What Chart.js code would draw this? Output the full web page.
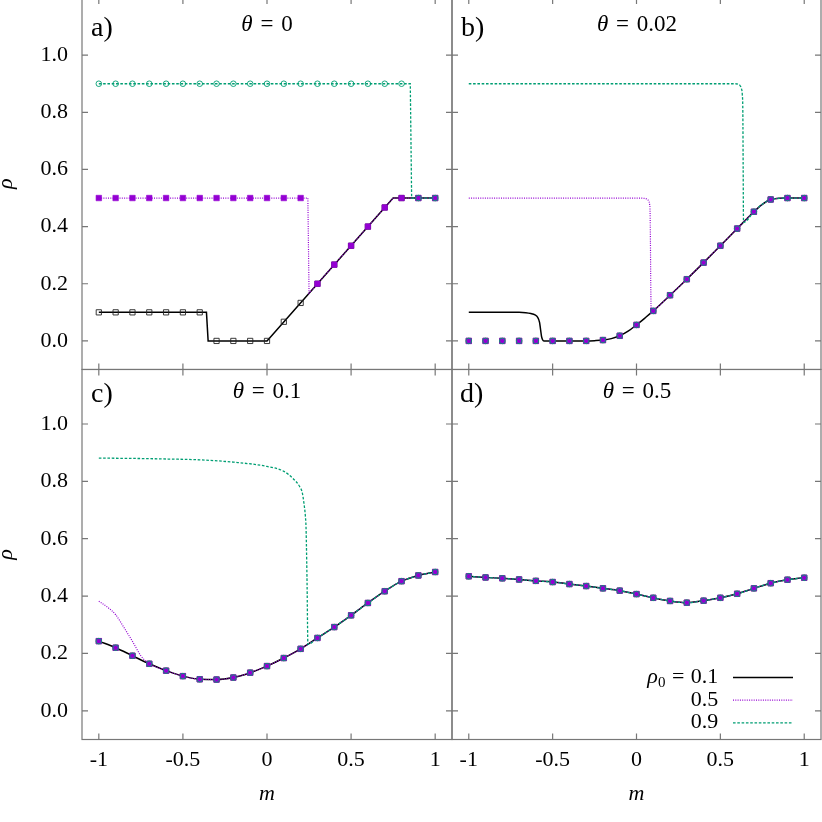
<!DOCTYPE html>
<html><head><meta charset="utf-8">
<script src="https://cdn.jsdelivr.net/npm/chart.js@4.4.1/dist/chart.umd.min.js"></script>
<style>
html,body{margin:0;padding:0;background:#fff;width:822px;height:822px;overflow:hidden;}
body{position:relative;font-family:'Liberation Serif','Times New Roman',serif;color:#000;}
.panel{position:absolute;}
.txt{position:absolute;white-space:nowrap;font-family:'Liberation Serif','Times New Roman',serif;color:#000;}
</style></head><body>
<div class="panel" style="left:0px;top:-4px;width:460px;height:374px"><canvas id="ca"></canvas></div>
<div class="panel" style="left:444px;top:-4px;width:378px;height:374px"><canvas id="cb"></canvas></div>
<div class="panel" style="left:0px;top:366px;width:460px;height:456px"><canvas id="cc"></canvas></div>
<div class="panel" style="left:444px;top:366px;width:378px;height:456px"><canvas id="cd"></canvas></div>
<script>
// ---------------- data ----------------
const xTicks = [-1, -0.5, 0, 0.5, 1];
const xTickLabels = ['-1', '-0.5', '0', '0.5', '1'];
const yTicks = [0, 0.2, 0.4, 0.6, 0.8, 1.0];
const yTickLabels = ['0.0', '0.2', '0.4', '0.6', '0.8', '1.0'];
const panelLetters = ['a)', 'b)', 'c)', 'd)'];
const thetaValues = ['0', '0.02', '0.1', '0.5'];
const legendLabels = ['0.1', '0.5', '0.9'];

// marker positions (m)
const markM = [-1,-0.9,-0.8,-0.7,-0.6,-0.5,-0.4,-0.3,-0.2,-0.1,0,0.1,0.2,0.3,0.4,0.5,0.6,0.7,0.8,0.9,1];

// panel a) theta = 0
const aMark01 = [0.1,0.1,0.1,0.1,0.1,0.1,0.1,0,0,0,0,0.067,0.133,0.2,0.267,0.333,0.4,0.467,0.5,0.5,0.5];
const aMark05 = [0.5,0.5,0.5,0.5,0.5,0.5,0.5,0.5,0.5,0.5,0.5,0.5,0.5,0.2,0.267,0.333,0.4,0.467,0.5,0.5,0.5];
const aMark09 = [0.9,0.9,0.9,0.9,0.9,0.9,0.9,0.9,0.9,0.9,0.9,0.9,0.9,0.9,0.9,0.9,0.9,0.9,0.9,0.5,0.5];
const aLine01M = [-1,-0.36,-0.35,0,0.75,1];
const aLine01  = [0.1,0.1,0,0,0.5,0.5];
const aLine05M = [-1,0.243,0.25,0.75,1];
const aLine05  = [0.5,0.5,0.167,0.5,0.5];
const aLine09M = [-1,0.852,0.86,1];
const aLine09  = [0.9,0.9,0.5,0.5];

// panel b) theta = 0.02
const bMark = [0,0,0,0,0,0,0,0,0.003,0.018,0.056,0.105,0.160,0.216,0.274,0.333,0.393,0.452,0.495,0.5,0.5];
const bLine01M = [-1,-0.7,-0.66,-0.63,-0.605,-0.59,-0.578,-0.572,-0.566,-0.56,-0.552,-0.3,-0.25,-0.2,-0.15,-0.1,-0.05,0,0.05,0.1,0.2,0.3,0.4,0.5,0.6,0.7,0.75,0.8,0.85,0.9,1];
const bLine01  = [0.1,0.1,0.099,0.096,0.091,0.083,0.065,0.04,0.015,0.004,0,0,0.001,0.003,0.008,0.018,0.034,0.056,0.08,0.105,0.160,0.216,0.274,0.333,0.393,0.452,0.478,0.495,0.499,0.5,0.5];
const bLine05M = [-1,0.02,0.045,0.062,0.072,0.078,0.081,0.083,0.085,0.088,0.1,0.2,0.3,0.4,0.5,0.6,0.7,0.75,0.8,0.85,0.9,1];
const bLine05  = [0.5,0.5,0.499,0.496,0.49,0.478,0.45,0.35,0.2,0.1,0.105,0.160,0.216,0.274,0.333,0.393,0.452,0.478,0.495,0.499,0.5,0.5];
const bLine09M = [-1,0.59,0.607,0.618,0.626,0.631,0.634,0.636,0.638,0.7,0.75,0.8,0.85,0.9,1];
const bLine09  = [0.9,0.9,0.898,0.893,0.882,0.86,0.8,0.6,0.415,0.452,0.478,0.495,0.499,0.5,0.5];

// panel c) theta = 0.1
const cMark = [0.243,0.220,0.192,0.164,0.140,0.121,0.110,0.109,0.116,0.133,0.156,0.184,0.216,0.254,0.292,0.333,0.376,0.417,0.452,0.472,0.484];
const cLine01M = [-1,-0.9,-0.8,-0.7,-0.6,-0.5,-0.4,-0.3,-0.2,-0.1,0,0.1,0.2,0.3,0.4,0.5,0.6,0.7,0.8,0.9,1];
const cLine01  = [0.243,0.220,0.192,0.164,0.140,0.121,0.110,0.109,0.116,0.133,0.156,0.184,0.216,0.254,0.292,0.333,0.376,0.417,0.452,0.472,0.484];
const cLine05M = [-1,-0.95,-0.9,-0.85,-0.8,-0.75,-0.72,-0.7,-0.6,-0.5,-0.4,-0.3,-0.2,-0.1,0,0.1,0.2,0.3,0.4,0.5,0.6,0.7,0.8,0.9,1];
const cLine05  = [0.382,0.362,0.335,0.29,0.242,0.192,0.172,0.164,0.140,0.121,0.110,0.109,0.116,0.133,0.156,0.184,0.216,0.254,0.292,0.333,0.376,0.417,0.452,0.472,0.484];
const cLine09M = [-1,-0.8,-0.6,-0.4,-0.2,0,0.1,0.156,0.196,0.21,0.22,0.228,0.232,0.236,0.239,0.241,0.243,0.3,0.4,0.5,0.6,0.7,0.8,0.9,1];
const cLine09  = [0.881,0.880,0.878,0.875,0.867,0.852,0.835,0.809,0.78,0.76,0.722,0.68,0.641,0.526,0.41,0.3,0.232,0.254,0.292,0.333,0.376,0.417,0.452,0.472,0.484];

// panel d) theta = 0.5
const dMark = [0.469,0.465,0.462,0.458,0.453,0.449,0.442,0.435,0.427,0.419,0.407,0.394,0.383,0.377,0.384,0.394,0.408,0.427,0.445,0.457,0.464];
const dLineM = [-1,-0.9,-0.8,-0.7,-0.6,-0.5,-0.4,-0.3,-0.2,-0.1,0,0.1,0.2,0.3,0.4,0.5,0.6,0.7,0.8,0.9,1];
const dLine  = [0.469,0.465,0.462,0.458,0.453,0.449,0.442,0.435,0.427,0.419,0.407,0.394,0.383,0.377,0.384,0.394,0.408,0.427,0.445,0.457,0.464];

// ---------------- styling / helpers ----------------
const FONT = "'Liberation Serif','Times New Roman',serif";
const STYLE = {
  r01: {c: '#000000', w: 1.5, d: []},
  r05: {c: '#9400d3', w: 1.2, d: [1, 1.3]},
  r09: {c: '#009e73', w: 1.3, d: [2.6, 1.7]}
};
function pts(xs, ys) { return xs.map((x, i) => ({x: x, y: ys[i]})); }
function lineDs(xs, ys, key, smooth) {
  const s = STYLE[key];
  const order = {r09: 3, r05: 4, r01: 5}[key];
  return {data: pts(xs, ys), showLine: true, borderColor: s.c, backgroundColor: s.c,
    borderWidth: s.w, borderDash: s.d, pointRadius: 0, pointHoverRadius: 0, order: order,
    cubicInterpolationMode: smooth ? 'monotone' : 'default', tension: 0, fill: false, key: key};
}
function markDs(xs, ys, key) {
  const base = {data: pts(xs, ys), showLine: false, pointHoverRadius: 0, key: 'm' + key};
  if (key === 'r01') return Object.assign(base, {order: 2, pointStyle: 'rect', pointRadius: 3.7,
    pointBorderColor: '#222', borderColor: '#222', pointBackgroundColor: 'rgba(0,0,0,0)', backgroundColor: 'rgba(0,0,0,0)', pointBorderWidth: 0.9});
  if (key === 'r05') return Object.assign(base, {order: 1, pointStyle: 'rect', pointRadius: 3.9,
    pointBorderColor: '#9400d3', borderColor: '#9400d3', pointBackgroundColor: '#9400d3', backgroundColor: '#9400d3', pointBorderWidth: 0.6});
  return Object.assign(base, {order: 0, pointStyle: 'circle', pointRadius: 2.8,
    pointBorderColor: '#009e73', borderColor: '#009e73', pointBackgroundColor: 'rgba(0,0,0,0)', backgroundColor: 'rgba(0,0,0,0)', pointBorderWidth: 0.9});
}

const framePlugin = {
  id: 'frame',
  afterDraw(chart) {
    const ctx = chart.ctx, a = chart.chartArea, x = chart.scales.x, y = chart.scales.y;
    ctx.save();
    ctx.strokeStyle = '#777777';
    ctx.lineWidth = 1.2;
    ctx.setLineDash([]);
    ctx.strokeRect(a.left, a.top, a.right - a.left, a.bottom - a.top);
    ctx.beginPath();
    x.ticks.forEach(t => {
      const p = x.getPixelForValue(t.value);
      ctx.moveTo(p, a.bottom); ctx.lineTo(p, a.bottom - 6);
      ctx.moveTo(p, a.top); ctx.lineTo(p, a.top + 6);
    });
    y.ticks.forEach(t => {
      const p = y.getPixelForValue(t.value);
      ctx.moveTo(a.left, p); ctx.lineTo(a.left + 6, p);
      ctx.moveTo(a.right, p); ctx.lineTo(a.right - 6, p);
    });
    ctx.stroke();
    ctx.restore();
  }
};

const legendPlugin = {
  id: 'legendSamples',
  afterDraw(chart) {
    const ctx = chart.ctx, a = chart.chartArea;
    ['r01', 'r05', 'r09'].forEach((k, i) => {
      const d = chart.data.datasets.find(ds => ds.key === k);
      const yy = a.top + 308 + i * 22.7;
      ctx.save();
      ctx.strokeStyle = d.borderColor;
      ctx.lineWidth = d.borderWidth;
      ctx.setLineDash(d.borderDash);
      ctx.beginPath();
      ctx.moveTo(a.left + 281, yy);
      ctx.lineTo(a.left + 341, yy);
      ctx.stroke();
      ctx.restore();
    });
  }
};

function noPad(s) { s.paddingTop = 0; s.paddingBottom = 0; s.paddingLeft = 0; s.paddingRight = 0; }

function makeChart(id, datasets, cfg) {
  const chart = new Chart(document.getElementById(id), {
    type: 'scatter',
    data: {datasets: datasets},
    options: {
      responsive: true, maintainAspectRatio: false, animation: false, devicePixelRatio: 1,
      events: [],
      layout: {autoPadding: false, padding: Object.assign({}, cfg.pad)},
      plugins: {legend: {display: false}, tooltip: {enabled: false}},
      scales: {
        x: {
          type: 'linear', position: 'bottom', min: -1.1, max: 1.1, bounds: 'data',
          afterBuildTicks: s => { s.ticks = xTicks.map(v => ({value: v})); },
          afterFit: s => { s.height = cfg.showX ? 70 : 0; noPad(s); },
          grid: {display: false, drawTicks: false}, border: {display: false},
          ticks: {display: cfg.showX, padding: 8, color: '#000', autoSkip: false, maxRotation: 0,
            font: {family: FONT, size: 22}, callback: (v, i) => xTickLabels[i]},
          title: {display: cfg.showX, text: 'm', color: '#000',
            font: {family: FONT, size: 22, style: 'italic'}, padding: {top: 0, bottom: 2}}
        },
        y: {
          type: 'linear', position: 'left', min: -0.1, max: cfg.ymax, bounds: 'data',
          afterBuildTicks: s => { s.ticks = yTicks.map(v => ({value: v})); },
          afterFit: s => { s.width = cfg.showY ? 82 : 0; noPad(s); },
          grid: {display: false, drawTicks: false}, border: {display: false},
          ticks: {display: cfg.showY, padding: 14, color: '#000', autoSkip: false,
            font: {family: FONT, size: 22}, callback: (v, i) => yTickLabels[i]},
          title: {display: cfg.showY, text: 'ρ', color: '#000',
            font: {family: FONT, size: 22, style: 'italic', lineHeight: 0.6}, padding: {top: 0, bottom: 0}}
        }
      }
    },
    plugins: [framePlugin].concat(cfg.extra || [])
  });
  // nudge layout padding so that the plot frame lands exactly where wanted
  const t = cfg.target;
  for (let k = 0; k < 3; k++) {
    const a = chart.chartArea;
    const p = chart.config.options.layout.padding;
    const dl = t.left - a.left, dr = a.right - t.right, dt = t.top - a.top, db = a.bottom - t.bottom;
    if (Math.abs(dl) + Math.abs(dr) + Math.abs(dt) + Math.abs(db) < 0.05) break;
    chart.config.options.layout.padding = {left: p.left + dl, right: p.right + dr, top: p.top + dt, bottom: p.bottom + db};
    chart.update('none');
  }
  return chart;
}

// panel a  (div at page 0,-4)
makeChart('ca', [
  markDs(markM, aMark09, 'r09'), markDs(markM, aMark05, 'r05'), markDs(markM, aMark01, 'r01'),
  lineDs(aLine09M, aLine09, 'r09', false), lineDs(aLine05M, aLine05, 'r05', false), lineDs(aLine01M, aLine01, 'r01', false)
], {pad: {left: 0, right: 8, top: 2, bottom: 0.5}, showX: false, showY: true, ymax: 1.2,
    target: {left: 82, right: 452, top: 2, bottom: 373.5}});

// panel b  (div at page 444,-4)
makeChart('cb', [
  markDs(markM, bMark, 'r09'), markDs(markM, bMark, 'r05'), markDs(markM, bMark, 'r01'),
  lineDs(bLine09M, bLine09, 'r09', true), lineDs(bLine05M, bLine05, 'r05', true), lineDs(bLine01M, bLine01, 'r01', true)
], {pad: {left: 8, right: 1, top: 2, bottom: 0.5}, showX: false, showY: false, ymax: 1.2,
    target: {left: 8, right: 377, top: 2, bottom: 373.5}});

// panel c  (div at page 0,366)
makeChart('cc', [
  markDs(markM, cMark, 'r09'), markDs(markM, cMark, 'r05'), markDs(markM, cMark, 'r01'),
  lineDs(cLine09M, cLine09, 'r09', true), lineDs(cLine05M, cLine05, 'r05', true), lineDs(cLine01M, cLine01, 'r01', true)
], {pad: {left: 0, right: 8, top: 3.5, bottom: 12.5}, showX: true, showY: true, ymax: 1.19,
    target: {left: 82, right: 452, top: 3.5, bottom: 373.5}});

// panel d  (div at page 444,366)
makeChart('cd', [
  markDs(markM, dMark, 'r09'), markDs(markM, dMark, 'r05'), markDs(markM, dMark, 'r01'),
  lineDs(dLineM, dLine, 'r09', true), lineDs(dLineM, dLine, 'r05', true), lineDs(dLineM, dLine, 'r01', true)
], {pad: {left: 8, right: 1, top: 3.5, bottom: 12.5}, showX: true, showY: false, ymax: 1.19, extra: [legendPlugin],
    target: {left: 8, right: 377, top: 3.5, bottom: 373.5}});

// ---------------- text (panel letters, titles, legend) ----------------
function addText(html, css) {
  const d = document.createElement('div');
  d.className = 'txt';
  d.innerHTML = html;
  Object.assign(d.style, css);
  document.body.appendChild(d);
}
const letterPos = [[91, 12.5], [461, 12.5], [91, 378.5], [460, 378.5]];
const titlePos = [[267, 11.5], [637, 11.5], [267, 379.2], [637, 379.2]];
panelLetters.forEach((t, i) => addText(t, {left: letterPos[i][0] + 'px', top: letterPos[i][1] + 'px', fontSize: '28px', lineHeight: '28px'}));
thetaValues.forEach((t, i) => addText('<i>θ</i> = ' + t,
  {left: (titlePos[i][0] - 100) + 'px', top: titlePos[i][1] + 'px', width: '200px', textAlign: 'center',
   fontSize: '23px', lineHeight: '23px', wordSpacing: '2px'}));
const legendTops = [664.9, 687.6, 709.9];
legendLabels.forEach((t, i) => {
  const html = i === 0 ? '<i>ρ</i><span style="font-size:15px;line-height:0;position:relative;top:4px">0</span> = ' + t : t;
  addText(html, {left: '560px', width: '158.3px', textAlign: 'right', top: legendTops[i] + 'px', fontSize: '22px', lineHeight: '22px', wordSpacing: '1px'});
});
</script>
</body></html>
